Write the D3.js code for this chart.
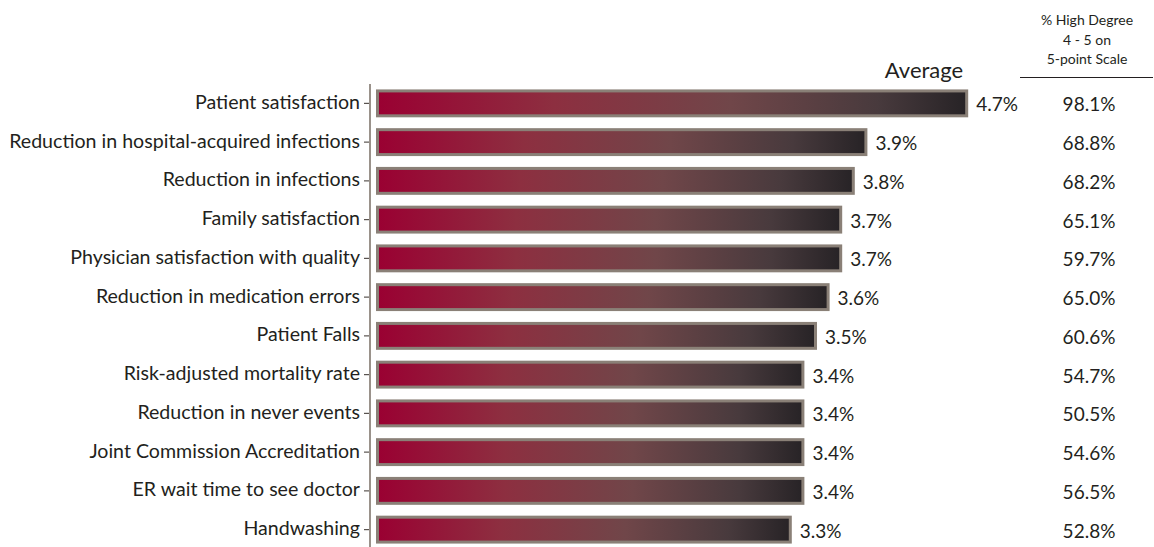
<!DOCTYPE html>
<html>
<head>
<meta charset="utf-8">
<script src="https://cdn.jsdelivr.net/npm/d3@7"></script>
<style>
  html, body { margin: 0; padding: 0; background: #fff; }
  text { font-family: Lato, "Open Sans", sans-serif; fill: #231f20; }
</style>
</head>
<body>
<div id="chart" style="width:1154px;height:547px;"></div>
<script>
// survey results: average score and share rating 4-5
const categories = [
  'Patient satisfaction',
  'Reduction in hospital-acquired infections',
  'Reduction in infections',
  'Family satisfaction',
  'Physician satisfaction with quality',
  'Reduction in medication errors',
  'Patient Falls',
  'Risk-adjusted mortality rate',
  'Reduction in never events',
  'Joint Commission Accreditation',
  'ER wait time to see doctor',
  'Handwashing'
];
const averages = [4.7, 3.9, 3.8, 3.7, 3.7, 3.6, 3.5, 3.4, 3.4, 3.4, 3.4, 3.3];
const highDegree = [98.1, 68.8, 68.2, 65.1, 59.7, 65.0, 60.6, 54.7, 50.5, 54.6, 56.5, 52.8];
const headerLines = ['% High Degree', '4 - 5 on', '5-point Scale'];

const width = 1154, height = 547;
const svg = d3.select('#chart').append('svg')
  .attr('width', width)
  .attr('height', height);

const xScale = d3.scaleLinear()
  .domain([0, 5])
  .range([376, 1006]);
const yScale = d3.scaleBand()
  .domain(categories)
  .range([84, 84 + 38.75 * categories.length])
  .paddingInner(0.28)
  .paddingOuter(0.14);

// one gradient, stretched over each bar's own box
const defs = svg.append('defs');
const grad = defs.append('linearGradient')
  .attr('id', 'barGrad')
  .attr('x1', 0).attr('x2', 1).attr('y1', 0).attr('y2', 0);
[[0, '#9a0032'], [0.3, '#8d2f40'], [0.6, '#704649'], [0.85, '#483a3d'], [1, '#272326']]
  .forEach(([o, c]) => grad.append('stop').attr('offset', o).attr('stop-color', c));

// category axis on the left
const yAxis = g => g.attr('transform', `translate(370, 0)`)
  .call(d3.axisLeft(yScale).tickSize(6).tickPadding(4).tickSizeOuter(0))
  .call(g => g.select('.domain').remove())
  .call(g => g.selectAll('.tick line').attr('stroke', '#5a5450').attr('stroke-width', 1.2))
  .call(g => g.selectAll('.tick text')
              .attr('font-size', 19.6)
              .attr('dy', '0.28em')
              .attr('font-family', 'Lato, sans-serif')
              .attr('fill', '#231f20'));
svg.append('g').attr('id', 'g_yAxis').call(yAxis);

svg.append('line')
  .attr('x1', 370).attr('x2', 370)
  .attr('y1', 84).attr('y2', height)
  .attr('stroke', '#9a928b')
  .attr('stroke-width', 2);

const rows = categories.map((c, i) => ({name: c, avg: averages[i], high: highDegree[i]}));

const bw = 3;
svg.append('g').attr('id', 'g_bars')
  .selectAll('rect')
  .data(rows)
  .enter().append('rect')
    .attr('x', xScale(0) + bw / 2)
    .attr('y', d => yScale(d.name) + bw / 2)
    .attr('width', d => xScale(d.avg) - xScale(0) - bw)
    .attr('height', yScale.bandwidth() - bw)
    .attr('fill', 'url(#barGrad)')
    .attr('stroke', '#8a8077')
    .attr('stroke-width', bw);

const mid = d => yScale(d.name) + yScale.bandwidth() / 2;

svg.append('g').attr('id', 'g_values')
  .selectAll('text')
  .data(rows)
  .enter().append('text')
    .attr('x', d => xScale(d.avg) + 8)
    .attr('y', mid)
    .attr('dy', '0.42em')
    .attr('font-size', 19)
    .text(d => d.avg.toFixed(1) + '%');

svg.append('g').attr('id', 'g_high')
  .selectAll('text')
  .data(rows)
  .enter().append('text')
    .attr('x', 1089)
    .attr('y', mid)
    .attr('dy', '0.42em')
    .attr('text-anchor', 'middle')
    .attr('font-size', 19)
    .text(d => d.high.toFixed(1) + '%');

// column headers
svg.append('text')
  .attr('x', 924).attr('y', 78)
  .attr('text-anchor', 'middle')
  .attr('font-size', 22)
  .text('Average');

svg.append('g').attr('id', 'g_header')
  .selectAll('text')
  .data(headerLines)
  .enter().append('text')
    .attr('x', 1087)
    .attr('y', (d, i) => 25 + i * 19.5)
    .attr('text-anchor', 'middle')
    .attr('font-size', 14)
    .text(d => d);

svg.append('line')
  .attr('x1', 1020).attr('x2', 1153)
  .attr('y1', 77.5).attr('y2', 77.5)
  .attr('stroke', '#231f20')
  .attr('stroke-width', 1);
</script>
</body>
</html>
